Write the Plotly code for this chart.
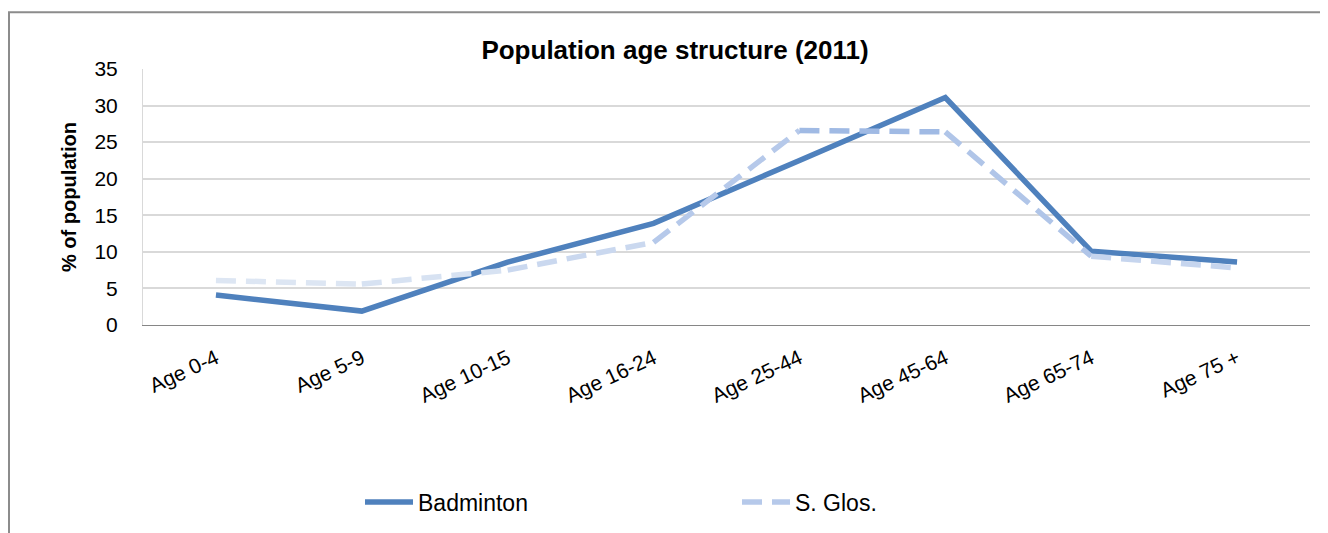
import plotly.graph_objects as go

age_groups = ["Age 0-4", "Age 5-9", "Age 10-15", "Age 16-24", "Age 25-44",
              "Age 45-64", "Age 65-74", "Age 75 +"]
badminton = [4.1, 1.9, 8.6, 13.9, 22.5, 31.1, 10.1, 8.6]
s_glos = [6.1, 5.6, 7.5, 11.3, 26.6, 26.4, 9.4, 7.8]

# the S. Glos. line fades from pale on the left to a stronger blue in the middle
glos_colors = ["#dde6f3", "#d7e2f2", "#cad8ef", "#b6c9ea", "#a0bae4", "#b0c5e8", "#c6d5ee"]

# page body adds 8px on top/left, so everything is placed 8px up/left of the reference
W, H = 1320, 525
L, R, T, B = 135, 18, 61, 207
pw, ph = W - L - R, H - T - B

fig = go.Figure()
fig.add_trace(go.Scatter(x=age_groups, y=badminton, name="Badminton", mode="lines",
                         line=dict(color="#4f81bd", width=5.5)))
for i, c in enumerate(glos_colors):
    fig.add_trace(go.Scatter(x=age_groups[i:i + 2], y=s_glos[i:i + 2], name="S. Glos.",
                             mode="lines", legendgroup="glos", showlegend=(i == 3),
                             line=dict(color=c, width=5.5, dash="20px,10px")))

# outer chart border
fig.add_shape(type="rect", xref="paper", yref="paper", layer="below",
              x0=(1 - L) / pw, x1=(W + 5 - L) / pw,
              y0=1 - (H + 5 - T) / ph, y1=1 + (T - 4) / ph,
              line=dict(color="#8c8c8c", width=2))

fig.update_layout(
    width=W, height=H,
    margin=dict(l=L, r=R, t=T, b=B),
    paper_bgcolor="white", plot_bgcolor="white",
    font=dict(family="Liberation Sans, Arial", color="#000000", size=18),
    title=dict(text="<b>Population age structure (2011)</b>", x=667 / W, xanchor="center",
               y=1 - 42 / H, yanchor="middle", font=dict(size=26)),
    legend=dict(orientation="h", x=(352 - L) / pw, xanchor="left",
                y=(T + ph - 494) / ph, yanchor="middle",
                entrywidth=314, entrywidthmode="pixels",
                font=dict(size=23), itemwidth=48),
    showlegend=True,
)
fig.update_xaxes(range=[-0.5, 7.5], showgrid=False, showline=True, linecolor="#868686",
                 linewidth=1, tickangle=-25, ticks="", tickfont=dict(size=21),
                 ticklabelstandoff=12)
fig.update_yaxes(range=[0, 35], dtick=5, showgrid=True, gridcolor="#d9d9d9", gridwidth=2,
                 showline=True, linecolor="#d9d9d9", zeroline=False, ticks="",
                 tickfont=dict(size=21), ticklabelstandoff=20,
                 title=dict(text="<b>% of population</b>", font=dict(size=20), standoff=12))

fig.write_html("out.html")
